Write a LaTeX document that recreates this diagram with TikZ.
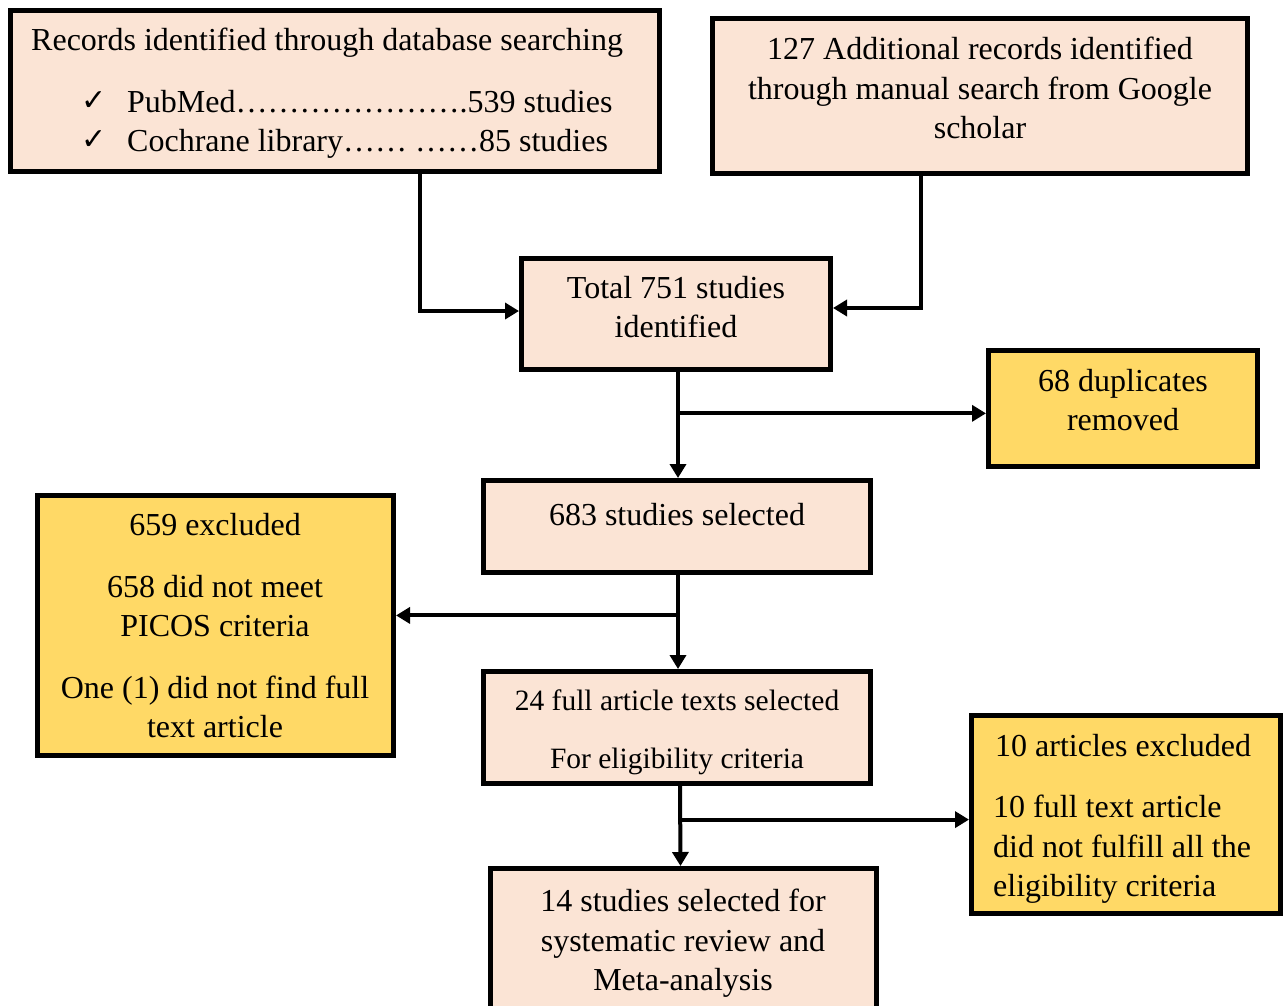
\documentclass[tikz,border=0pt]{standalone}
\usepackage{fontspec}
\setmainfont{Liberation Serif}
\newfontfamily\symfont{DejaVu Sans}
\usetikzlibrary{arrows.meta,calc}
\definecolor{peach}{HTML}{FBE4D5}
\definecolor{gold}{HTML}{FFD966}
\tikzset{
 box/.style={draw=black, line width=5pt, rectangle, inner sep=0pt},
 pbox/.style={box, fill=peach},
 ybox/.style={box, fill=gold},
 txt/.style={anchor=base, inner sep=0pt, font=\fontsize{32}{40}\selectfont},
 stxt/.style={txt, font=\fontsize{29.5}{37}\selectfont},
 ltxt/.style={txt, anchor=base west},
 chk/.style={anchor=base west, inner sep=0pt, font=\symfont\fontsize{30}{36}\selectfont},
 arr/.style={line width=4pt, -{Triangle[length=14pt,width=16pt]}},
 ln/.style={line width=4pt}
}
\begin{document}
\begin{tikzpicture}[x=1pt,y=-1pt]
\useasboundingbox (0,0) rectangle (1284,1005);
\clip (0,0) rectangle (1284,1005);
% boxes
\node[pbox, minimum width=649pt, minimum height=161pt] (recs) at (335,91) {};
\node[pbox, minimum width=535pt, minimum height=155pt] (add) at (980,96) {};
\node[pbox, minimum width=309pt, minimum height=111pt] (total) at (676,314) {};
\node[ybox, minimum width=269pt, minimum height=116pt] (dup) at (1123,408.5) {};
\node[pbox, minimum width=387pt, minimum height=92pt] (sel) at (677,526.5) {};
\node[ybox, minimum width=356pt, minimum height=260pt] (excl) at (215.5,625.5) {};
\node[pbox, minimum width=387pt, minimum height=112pt] (full) at (677,727.5) {};
\node[ybox, minimum width=309pt, minimum height=198pt] (art) at (1126,814.5) {};
\node[pbox, minimum width=386pt, minimum height=144pt] (fin) at (683.5,940.5) {};
% texts
\node[ltxt] (r1) at (31,50) {Records identified through database searching};
\node[chk] (r2c) at (81,110) {✓};
\node[ltxt] (r2) at (127,112) {PubMed…{}…{}…{}…{}…{}…{}…{}.539 studies};
\node[chk] (r3c) at (81,149) {✓};
\node[ltxt] (r3) at (127,151) {Cochrane library…{}… …{}…85 studies};
\node[txt] (a1) at (980,59) {127 Additional records identified};
\node[txt] (a2) at (980,99) {through manual search from Google};
\node[txt] (a3) at (980,138) {scholar};
\node[txt] (t1) at (676,298) {Total 751 studies};
\node[txt] (t2) at (676,337) {identified};
\node[txt] (d1) at (1123,391) {68 duplicates};
\node[txt] (d2) at (1123,430) {removed};
\node[txt] (s1) at (677,525) {683 studies selected};
\node[txt] (e1) at (215,535) {659 excluded};
\node[txt] (e2) at (215,597) {658 did not meet};
\node[txt] (e3) at (215,636) {PICOS criteria};
\node[txt] (e4) at (215,698) {One (1) did not find full};
\node[txt] (e5) at (215,737) {text article};
\node[stxt] (f1) at (677,710) {24 full article texts selected};
\node[stxt] (f2) at (677,768) {For eligibility criteria};
\node[ltxt] (x1) at (995,756) {10 articles excluded};
\node[ltxt] (x2) at (993,817) {10 full text article};
\node[ltxt] (x3) at (993,857) {did not fulfill all the};
\node[ltxt] (x4) at (993,896) {eligibility criteria};
\node[txt] (m1) at (683,911) {14 studies selected for};
\node[txt] (m2) at (683,951) {systematic review and};
\node[txt] (m3) at (683,990) {Meta-analysis};
% connectors
\coordinate (p1) at ($(recs.south)+(85,0)$);
\coordinate (p2) at ($(add.south)+(-59,0)$);
\draw[arr] (p1) |- ([yshift=3pt]total.west);
\draw[arr] (p2) |- ([yshift=6pt]total.east);
\draw[arr] ([xshift=2pt]total.south) -- ([xshift=1pt]sel.north);
\coordinate (b1) at ($([xshift=2pt]total.south)!0.39!([xshift=1pt]sel.north)$);
\draw[arr] (b1) -- (b1 -| dup.west);
\draw[arr] ([xshift=1pt]sel.south) -- ([xshift=1pt]full.north);
\coordinate (b2) at ($([xshift=1pt]sel.south)!0.43!([xshift=1pt]full.north)$);
\draw[arr] (b2) -- (b2 -| excl.east);
\draw[arr] ([xshift=3pt]full.south) -- ([xshift=-3pt]fin.north);
\coordinate (b3) at ($([xshift=3pt]full.south)!0.42!([xshift=-3pt]fin.north)$);
\draw[arr] (b3) -- (b3 -| art.west);
\end{tikzpicture}
\end{document}
